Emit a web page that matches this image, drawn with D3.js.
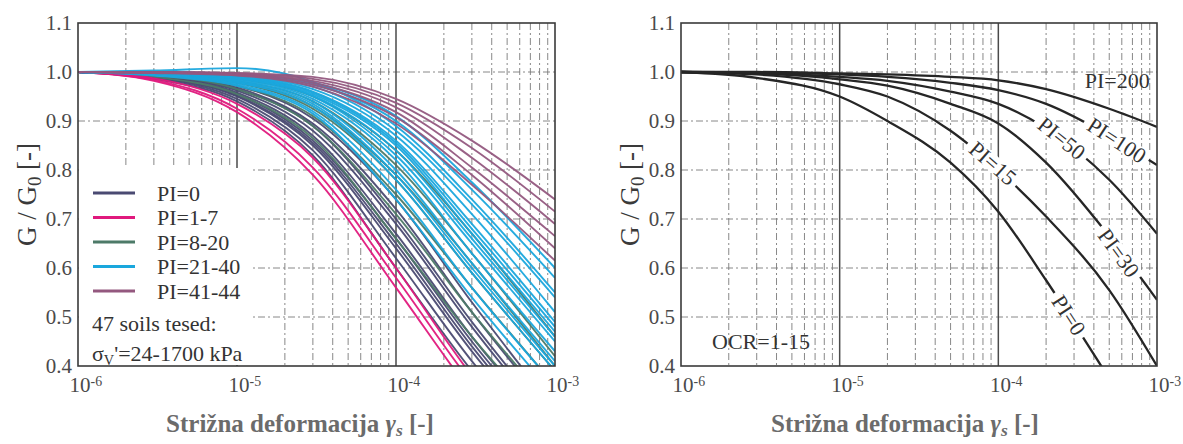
<!DOCTYPE html>
<html><head><meta charset="utf-8">
<script src="https://cdn.jsdelivr.net/npm/d3@7"></script>
<style>
body{margin:0;background:#fff;}
svg text{font-family:"Liberation Serif","DejaVu Serif","Noto Serif",serif;}
</style></head><body>
<svg id="chart" width="1183" height="444"></svg>
<script>
// ---------- DATA ----------
const strains = [1e-6, 3e-6, 1e-5, 3e-5, 1e-4, 3e-4, 1e-3];

const pi0Curves = [
  [1,0.986,0.940,0.830,0.600,0.390,0.200],
  [1,0.988,0.945,0.840,0.620,0.410,0.220],
  [1,0.989,0.950,0.850,0.640,0.430,0.230],
  [1,0.990,0.952,0.855,0.650,0.440,0.240],
  [1,0.990,0.955,0.860,0.660,0.450,0.250],
  [1,0.991,0.958,0.870,0.670,0.460,0.260],
  [1,0.992,0.962,0.880,0.690,0.480,0.270],
  [1,0.992,0.965,0.890,0.700,0.490,0.280],
  [1,0.993,0.968,0.895,0.720,0.510,0.300],
  [1,0.994,0.972,0.905,0.740,0.530,0.310]
];
const pi1to7Curves = [
  [1,0.982,0.918,0.790,0.560,0.345,0.150],
  [1,0.984,0.925,0.805,0.580,0.365,0.170],
  [1,0.987,0.935,0.825,0.600,0.380,0.180]
];
const pi8to20Curves = [
  [1,0.990,0.955,0.865,0.660,0.460,0.270],
  [1,0.993,0.965,0.890,0.710,0.510,0.310],
  [1,0.994,0.972,0.910,0.750,0.560,0.360],
  [1,0.995,0.978,0.925,0.780,0.590,0.390],
  [1,0.996,0.980,0.930,0.790,0.610,0.400],
  [1,0.996,0.982,0.940,0.810,0.630,0.420],
  [1,0.997,0.986,0.950,0.840,0.670,0.460]
];
const pi21to40Curves = [
  [1,0.993,0.972,0.915,0.740,0.540,0.340],
  [1,0.994,0.975,0.920,0.760,0.560,0.360],
  [1,0.995,0.978,0.930,0.780,0.590,0.390],
  [1,0.995,0.980,0.935,0.790,0.600,0.400],
  [1,0.996,0.982,0.940,0.800,0.610,0.410],
  [1,0.996,0.984,0.945,0.820,0.630,0.430],
  [1,0.997,0.986,0.950,0.830,0.650,0.450],
  [1,0.997,0.987,0.952,0.840,0.660,0.460],
  [1,0.997,0.988,0.955,0.850,0.670,0.470],
  [1,0.998,0.989,0.958,0.855,0.680,0.480],
  [1,0.998,0.990,0.960,0.860,0.690,0.490],
  [1,0.998,0.991,0.965,0.870,0.710,0.510],
  [1,0.998,0.992,0.970,0.880,0.730,0.540],
  [1,0.999,0.994,0.975,0.900,0.760,0.580],
  [1,1.003,1.008,0.980,0.890,0.740,0.550],
  [1,0.999,0.995,0.978,0.910,0.775,0.600]
];
const pi41to44Curves = [
  [1,1.000,0.998,0.990,0.945,0.860,0.740],
  [1,1.000,0.997,0.986,0.937,0.845,0.715],
  [1,0.999,0.996,0.982,0.928,0.825,0.690],
  [1,0.999,0.995,0.978,0.918,0.805,0.665],
  [1,0.999,0.994,0.974,0.908,0.790,0.640],
  [1,0.998,0.993,0.970,0.895,0.770,0.615]
];
const legendLabels = ["PI=0", "PI=1-7", "PI=8-20", "PI=21-40", "PI=41-44"];
const legendColors = ["#4a4a72", "#e0197d", "#4d7a68", "#1aa7dd", "#94587f"];

// right panel
const rightStrains = [1e-6, 3e-6, 1e-5, 2e-5, 5e-5, 1e-4, 2e-4, 5e-4, 1e-3];
const rightLabels = ["PI=0", "PI=15", "PI=30", "PI=50", "PI=100", "PI=200"];
const rightValues = [
  [1, 0.988, 0.950, 0.900, 0.815, 0.715, 0.575, 0.375, 0.230],
  [1, 0.995, 0.975, 0.950, 0.880, 0.800, 0.705, 0.555, 0.400],
  [1, 0.997, 0.985, 0.972, 0.935, 0.895, 0.815, 0.665, 0.535],
  [1, 0.998, 0.990, 0.982, 0.960, 0.935, 0.885, 0.780, 0.670],
  [1, 0.999, 0.995, 0.990, 0.978, 0.963, 0.935, 0.870, 0.810],
  [1, 1.000, 0.997, 0.995, 0.990, 0.983, 0.965, 0.925, 0.888]
];
// label anchor (strain, G/G0) and rotation, per right-panel curve
const rightLabelStrain = [2.79e-4, 9.25e-5, 5.75e-4, 2.51e-4, 5.59e-4, 9.0e-4];
const rightLabelValue  = [0.504, 0.814, 0.631, 0.865, 0.861, 0.967];
const rightLabelAngle  = [57, 41, 54, 39, 33, 0];

const xTicks = [1e-6, 1e-5, 1e-4, 1e-3];
const yTicks = [0.4, 0.5, 0.6, 0.7, 0.8, 0.9, 1.0, 1.1];
const yGrid = [0.5, 0.6, 0.7, 0.8, 0.9, 1.0];

// ---------- DRAW ----------
const FONT = '"Liberation Serif","DejaVu Serif","Noto Serif",serif';
const svg = d3.select("#chart");
const yTop = 23, yBot = 366;
const panels = [{x0: 78, x1: 555, ylab: 36, title: 300}, {x0: 681, x1: 1157, ylab: 639, title: 905}];
const minorStrains = [];
[1e-6, 1e-5, 1e-4].forEach(d => { for (let k = 2; k <= 9; k++) minorStrains.push(d * k); });

function makePanel(p, idx) {
  const g = svg.append("g");
  const x = d3.scaleLog().domain([1e-6, 1e-3]).range([p.x0, p.x1]);
  const y = d3.scaleLinear().domain([0.4, 1.1]).range([yBot, yTop]);
  const grid = g.append("g");
  grid.selectAll("line.minor").data(minorStrains).join("line").attr("class", "minor")
    .attr("x1", d => x(d)).attr("x2", d => x(d)).attr("y1", yTop).attr("y2", yBot)
    .attr("stroke", "#7a7a7a").attr("stroke-width", 0.9).attr("stroke-dasharray", "7,3,2,3");
  grid.selectAll("line.h").data(yGrid).join("line").attr("class", "h")
    .attr("x1", p.x0).attr("x2", p.x1).attr("y1", d => y(d)).attr("y2", d => y(d))
    .attr("stroke", "#7a7a7a").attr("stroke-width", 0.9).attr("stroke-dasharray", "7,3,2,3");
  grid.selectAll("line.major").data([1e-5, 1e-4]).join("line").attr("class", "major")
    .attr("x1", d => x(d)).attr("x2", d => x(d)).attr("y1", yTop).attr("y2", yBot)
    .attr("stroke", "#4a4a4a").attr("stroke-width", 1.5);

  svg.append("clipPath").attr("id", "clip" + idx).append("rect")
    .attr("x", p.x0).attr("y", yTop).attr("width", p.x1 - p.x0).attr("height", yBot - yTop);
  const plot = g.append("g").attr("clip-path", `url(#clip${idx})`);

  // axes
  const xa = g.append("g").attr("transform", `translate(0,${yBot})`)
    .call(d3.axisBottom(x).tickValues(xTicks).tickSize(0).tickPadding(11));
  xa.attr("font-family", null);
  xa.select(".domain").remove();
  xa.selectAll(".tick text").each(function(d) {
    const t = d3.select(this);
    const e = Math.round(Math.log10(d));
    t.text(null).attr("font-size", 21).attr("fill", "#4a4a4a").style("font-family", FONT)
      .attr("dx", "0.35em");
    t.append("tspan").text("10");
    t.append("tspan").attr("dy", "-0.45em").attr("font-size", "0.66em").text(e);
  });
  const ya = g.append("g").attr("transform", `translate(${p.x0},0)`)
    .call(d3.axisLeft(y).tickValues(yTicks).tickSize(0).tickPadding(6).tickFormat(d3.format(".1f")));
  ya.attr("font-family", null);
  ya.select(".domain").remove();
  ya.selectAll(".tick text").attr("font-size", 21).attr("fill", "#4a4a4a").style("font-family", FONT);

  // y label
  const yl = g.append("text").attr("transform", `translate(${p.ylab},${(yTop + yBot) / 2}) rotate(-90)`)
    .attr("text-anchor", "middle").attr("font-size", 27).attr("fill", "#3a3a3a").style("font-family", FONT);
  yl.append("tspan").text("G / G");
  yl.append("tspan").attr("font-size", "0.7em").attr("dy", "0.25em").text("0");
  yl.append("tspan").attr("dy", "-0.17em").text(" [-]");

  // x title
  const xt = g.append("text").attr("x", p.title).attr("y", 432).attr("text-anchor", "middle")
    .attr("font-size", 25).attr("font-weight", "bold").attr("fill", "#6b6b6b").style("font-family", FONT);
  xt.append("tspan").text("Strižna deformacija ");
  xt.append("tspan").attr("font-style", "italic").text("γ");
  xt.append("tspan").attr("font-style", "italic").attr("font-size", "0.7em").attr("dy", "0.2em").text("s");
  xt.append("tspan").attr("dy", "-0.14em").text(" [-]");

  return {g, x, y, plot};
}

// left panel
const L = makePanel(panels[0], 0);
const lineL = d3.line().x((d, i) => L.x(strains[i])).y(d => L.y(d)).curve(d3.curveMonotoneX);
const groups = [pi0Curves, pi8to20Curves, pi1to7Curves, pi21to40Curves, pi41to44Curves];
const groupColorIdx = [0, 2, 1, 3, 4];
groups.forEach((grp, gi) => {
  L.plot.append("g").selectAll("path").data(grp).join("path")
    .attr("d", lineL).attr("fill", "none")
    .attr("stroke", legendColors[groupColorIdx[gi]]).attr("stroke-width", 1.9).attr("stroke-opacity", 0.95);
});
// legend box
L.g.append("rect").attr("x", 79).attr("y", 168).attr("width", 172).attr("height", 197).attr("fill", "#fff");
const leg = L.g.append("g");
legendLabels.forEach((lab, i) => {
  const yy = 193 + i * 24.5;
  leg.append("line").attr("x1", 93).attr("x2", 135).attr("y1", yy).attr("y2", yy)
    .attr("stroke", legendColors[i]).attr("stroke-width", 3);
  leg.append("text").attr("x", 157).attr("y", yy).attr("dy", "0.35em").attr("font-size", 22)
    .attr("fill", "#333").style("font-family", FONT).text(lab);
});
leg.append("text").attr("x", 92).attr("y", 331).attr("font-size", 22).attr("fill", "#333")
  .style("font-family", FONT).text("47 soils tesed:");
const sg = leg.append("text").attr("x", 92).attr("y", 361).attr("font-size", 22).attr("fill", "#333").style("font-family", FONT);
sg.append("tspan").text("σ");
sg.append("tspan").attr("font-size", "0.65em").attr("dy", "0.25em").text("V");
sg.append("tspan").attr("dy", "-0.16em").text("'=24-1700 kPa");

// right panel
const R = makePanel(panels[1], 1);
const lineR = d3.line().x((d, i) => R.x(rightStrains[i])).y(d => R.y(d)).curve(d3.curveMonotoneX);
R.plot.append("g").selectAll("path").data(rightValues).join("path")
  .attr("d", lineR).attr("fill", "none").attr("stroke", "#262626").attr("stroke-width", 2.3);
const rl = R.g.append("g");
rightLabels.forEach((lab, i) => {
  const cx = R.x(rightLabelStrain[i]), cy = R.y(rightLabelValue[i]);
  const a = rightLabelAngle[i];
  const gg = rl.append("g").attr("transform", `translate(${cx},${cy}) rotate(${a})`);
  if (a !== 0) {
    const t = gg.append("text").attr("text-anchor", "middle").attr("dy", "0.35em")
      .attr("font-size", 22).attr("fill", "#333").style("font-family", FONT).text(lab);
    const w = t.node().getComputedTextLength();
    gg.insert("rect", "text").attr("x", -w / 2 - 5).attr("y", -8).attr("width", w + 10).attr("height", 16).attr("fill", "#fff");
  } else {
    gg.append("text").attr("text-anchor", "end").attr("font-size", 22).attr("fill", "#333").style("font-family", FONT).text(lab);
  }
});
R.g.append("text").attr("x", 712).attr("y", 349).attr("font-size", 22).attr("fill", "#333").style("font-family", FONT).text("OCR=1-15");

// frames
panels.forEach(p => {
  svg.append("rect").attr("x", p.x0).attr("y", yTop).attr("width", p.x1 - p.x0).attr("height", yBot - yTop)
    .attr("fill", "none").attr("stroke", "#3a3a3a").attr("stroke-width", 1.6);
});
</script>
</body></html>
